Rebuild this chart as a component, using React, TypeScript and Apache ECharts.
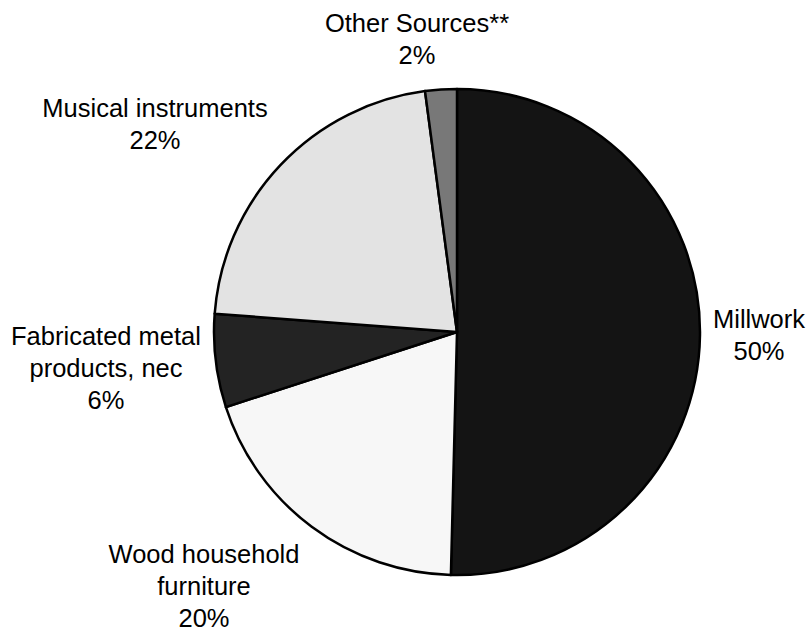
import React, { useEffect, useRef } from "react";
import * as echarts from "echarts";

const categories = [
  "Millwork",
  "Wood household furniture",
  "Fabricated metal products, nec",
  "Musical instruments",
  "Other Sources**",
];
const labelText = [
  "Millwork",
  "Wood household\nfurniture",
  "Fabricated metal\nproducts, nec",
  "Musical instruments",
  "Other Sources**",
];
const shares = [50.4, 19.6, 6.2, 21.7, 2.1];
const shownPercents = [50, 20, 6, 22, 2];

const sliceColors = ["#141414", "#f7f7f7", "#232323", "#e3e3e3", "#787878"];
const labelCenters: [number, number][] = [
  [759, 335],
  [204, 586],
  [106, 368],
  [155, 124],
  [417, 39],
];

export default function App() {
  const ref = useRef<HTMLDivElement>(null);
  useEffect(() => {
    if (!ref.current) return;
    const chart = echarts.init(ref.current, undefined, { renderer: "svg" });
    chart.setOption({
      animation: false,
      backgroundColor: "#ffffff",
      series: [
        {
          type: "pie",
          center: [457, 332],
          radius: 243,
          startAngle: 90,
          clockwise: true,
          silent: true,
          itemStyle: { borderColor: "#000", borderWidth: 2.5 },
          label: {
            show: true,
            position: "outside",
            alignTo: "none",
            overflow: "none",
            fontFamily: "Liberation Sans, Arial, sans-serif",
            fontSize: 25.5,
            lineHeight: 32,
            color: "#000",
            align: "center",
            formatter: (p: any) =>
              `${labelText[p.dataIndex]}\n${shownPercents[p.dataIndex]}%`,
          },
          labelLine: { show: false },
          labelLayout: (p: any) => ({
            x: labelCenters[p.dataIndex][0],
            y: labelCenters[p.dataIndex][1],
            align: "center",
            verticalAlign: "middle",
          }),
          data: categories.map((name, i) => ({
            name,
            value: shares[i],
            itemStyle: { color: sliceColors[i] },
          })),
        },
      ],
    });
    return () => chart.dispose();
  }, []);
  return (
    <div
      ref={ref}
      style={{ position: "fixed", left: 0, top: 0, width: 809, height: 631 }}
    />
  );
}
